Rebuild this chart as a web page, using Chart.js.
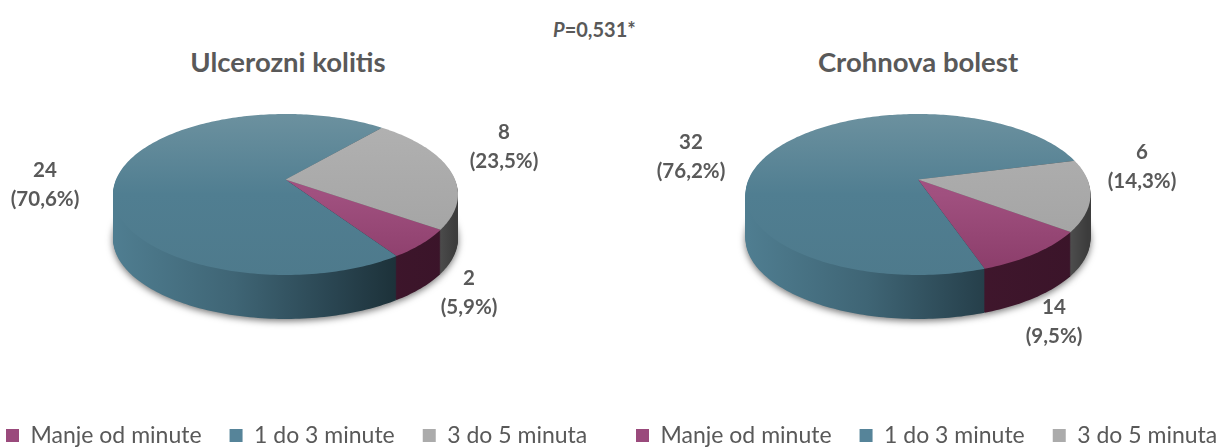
<!DOCTYPE html>
<html>
<head>
<meta charset="utf-8">
<style>
  html, body { margin: 0; padding: 0; background: #fff; }
  body { position: relative; width: 1216px; height: 448px; overflow: hidden; font-family: Lato, "Open Sans", sans-serif; }
  .holder { position: absolute; top: 0; height: 448px; }
  #pval { position: absolute; left: 553px; top: 17px; font-size: 20px; font-weight: bold; color: #595959; }
  .title { position: absolute; top: 44px; width: 400px; text-align: center; font-size: 27.5px; line-height: 36px; font-weight: bold; color: #595959; }
</style>
<script src="https://cdn.jsdelivr.net/npm/chart.js@4"></script>
</head>
<body>
<div id="pval"><i>P</i>=0,531*</div>
<div class="title" style="left:88px">Ulcerozni kolitis</div>
<div class="title" style="left:718px">Crohnova bolest</div>
<div class="holder" style="left:-22px;width:670px"><canvas id="grafLeft"></canvas></div>
<div class="holder" style="left:608px;width:670px"><canvas id="grafRight"></canvas></div>
<script>
const categories = ["Manje od minute", "1 do 3 minute", "3 do 5 minuta"];
const colors = ["#9a4a7c", "#568499", "#ababab"];

const valuesLeft = [2, 24, 8];
const valuesRight = [4, 32, 6];
const countsLeft = ["2", "24", "8"];
const countsRight = ["14", "32", "6"];
const percentsLeft = ["(5,9%)", "(70,6%)", "(23,5%)"];
const percentsRight = ["(9,5%)", "(76,2%)", "(14,3%)"];

const textColor = "#595959";
const fontName = "Lato, 'Open Sans', sans-serif";

// top face and side colours per slice
const topStops = [
    ["#a8588a", "#a0507f", "#8a3c69"],
    ["#6c919f", "#507e91", "#4e7a8c"],
    ["#b2b2b2", "#a9a9a9", "#a0a0a0"]
];
const sideStops = [
    [[0, "#4a1b33"], [1, "#3a1429"]],
    [[0, "#4f7d90"], [0.35, "#3f6575"], [0.65, "#294450"], [0.82, "#1d323a"], [1, "#1d323a"]],
    [[0, "#666666"], [0.9, "#5e5e5e"], [1, "#3c3c3c"]]
];

// perspective of the tilted disc
const persp = { a: 77.7, b: 0.186, depth: 44 };

function project(u, v, geo) {
    const w = 1 - persp.b * v;
    return [geo.cx + geo.r * u / w, geo.cy + persp.a * v / w];
}

function slicePath(ctx, arc, geo, dy) {
    const steps = Math.max(4, Math.ceil((arc.endAngle - arc.startAngle) / 0.02));
    ctx.beginPath();
    ctx.moveTo(geo.cx, geo.cy + dy);
    for (let i = 0; i <= steps; i++) {
        const t = arc.startAngle + (arc.endAngle - arc.startAngle) * i / steps;
        const p = project(Math.cos(t), Math.sin(t), geo);
        ctx.lineTo(p[0], p[1] + dy);
    }
    ctx.closePath();
}

const pie3d = {
    id: "pie3d",
    beforeDatasetsDraw(chart, args, opts) {
        const ctx = chart.ctx;
        const arcs = chart.getDatasetMeta(0).data;
        const geo = { cx: opts.cx, cy: opts.cy, r: arcs[0].outerRadius };

        ctx.save();
        for (let dy = persp.depth; dy >= 1; dy--) {
            arcs.forEach((arc, i) => {
                const g = ctx.createLinearGradient(geo.cx - geo.r, 0, geo.cx + geo.r, 0);
                sideStops[i].forEach(s => g.addColorStop(s[0], s[1]));
                if (dy === persp.depth) {
                    ctx.shadowColor = "rgba(0,0,0,0.55)";
                    ctx.shadowBlur = 7;
                    ctx.shadowOffsetY = 2;
                } else {
                    ctx.shadowColor = "transparent";
                    ctx.shadowBlur = 0;
                    ctx.shadowOffsetY = 0;
                }
                ctx.fillStyle = g;
                slicePath(ctx, arc, geo, dy);
                ctx.fill();
            });
        }
        ctx.shadowColor = "transparent";
        arcs.forEach((arc, i) => {
            const g = ctx.createLinearGradient(0, geo.cy - 66, 0, geo.cy + 96);
            g.addColorStop(0, topStops[i][0]);
            g.addColorStop(0.5, topStops[i][1]);
            g.addColorStop(1, topStops[i][2]);
            ctx.fillStyle = g;
            slicePath(ctx, arc, geo, 0);
            ctx.fill();
        });
        ctx.restore();
        return false;
    },
    afterDraw(chart, args, opts) {
        const ctx = chart.ctx;
        ctx.save();
        ctx.font = "bold 20.5px " + fontName;
        ctx.fillStyle = textColor;
        ctx.textAlign = "center";
        ctx.textBaseline = "middle";
        opts.spots.forEach((s, i) => {
            ctx.fillText(opts.counts[i], s[0] - opts.shift, s[1]);
            ctx.fillText(opts.percents[i], s[0] - opts.shift, s[1] + 29);
        });
        ctx.restore();
    }
};

function makeChart(id, values, counts, percents, shift, rotation, cx, spots) {
    return new Chart(document.getElementById(id), {
        type: "pie",
        data: {
            labels: categories,
            datasets: [{ data: values, backgroundColor: colors, borderWidth: 0 }]
        },
        plugins: [pie3d],
        options: {
            responsive: true,
            maintainAspectRatio: false,
            animation: false,
            rotation: rotation,
            radius: 169.5,
            layout: { padding: { bottom: -9 } },
            plugins: {
                title: { display: false },
                legend: {
                    display: true,
                    position: "bottom",
                    align: "start",
                    labels: {
                        boxWidth: 13,
                        boxHeight: 13,
                        padding: 28,
                        color: textColor,
                        font: { family: fontName, size: 23 }
                    }
                },
                tooltip: { enabled: false },
                pie3d: { cx: cx - shift, cy: 179.5, shift: shift, counts: counts, percents: percents, spots: spots }
            }
        }
    });
}

makeChart("grafLeft", valuesLeft, countsLeft, percentsLeft, -22, 125.2, 285.5,
    [[469, 278], [45, 170], [504, 132]]);
makeChart("grafRight", valuesRight, countsRight, percentsRight, 608, 126.8, 918,
    [[1054, 307], [691, 142], [1142, 152]]);
</script>
</body>
</html>
